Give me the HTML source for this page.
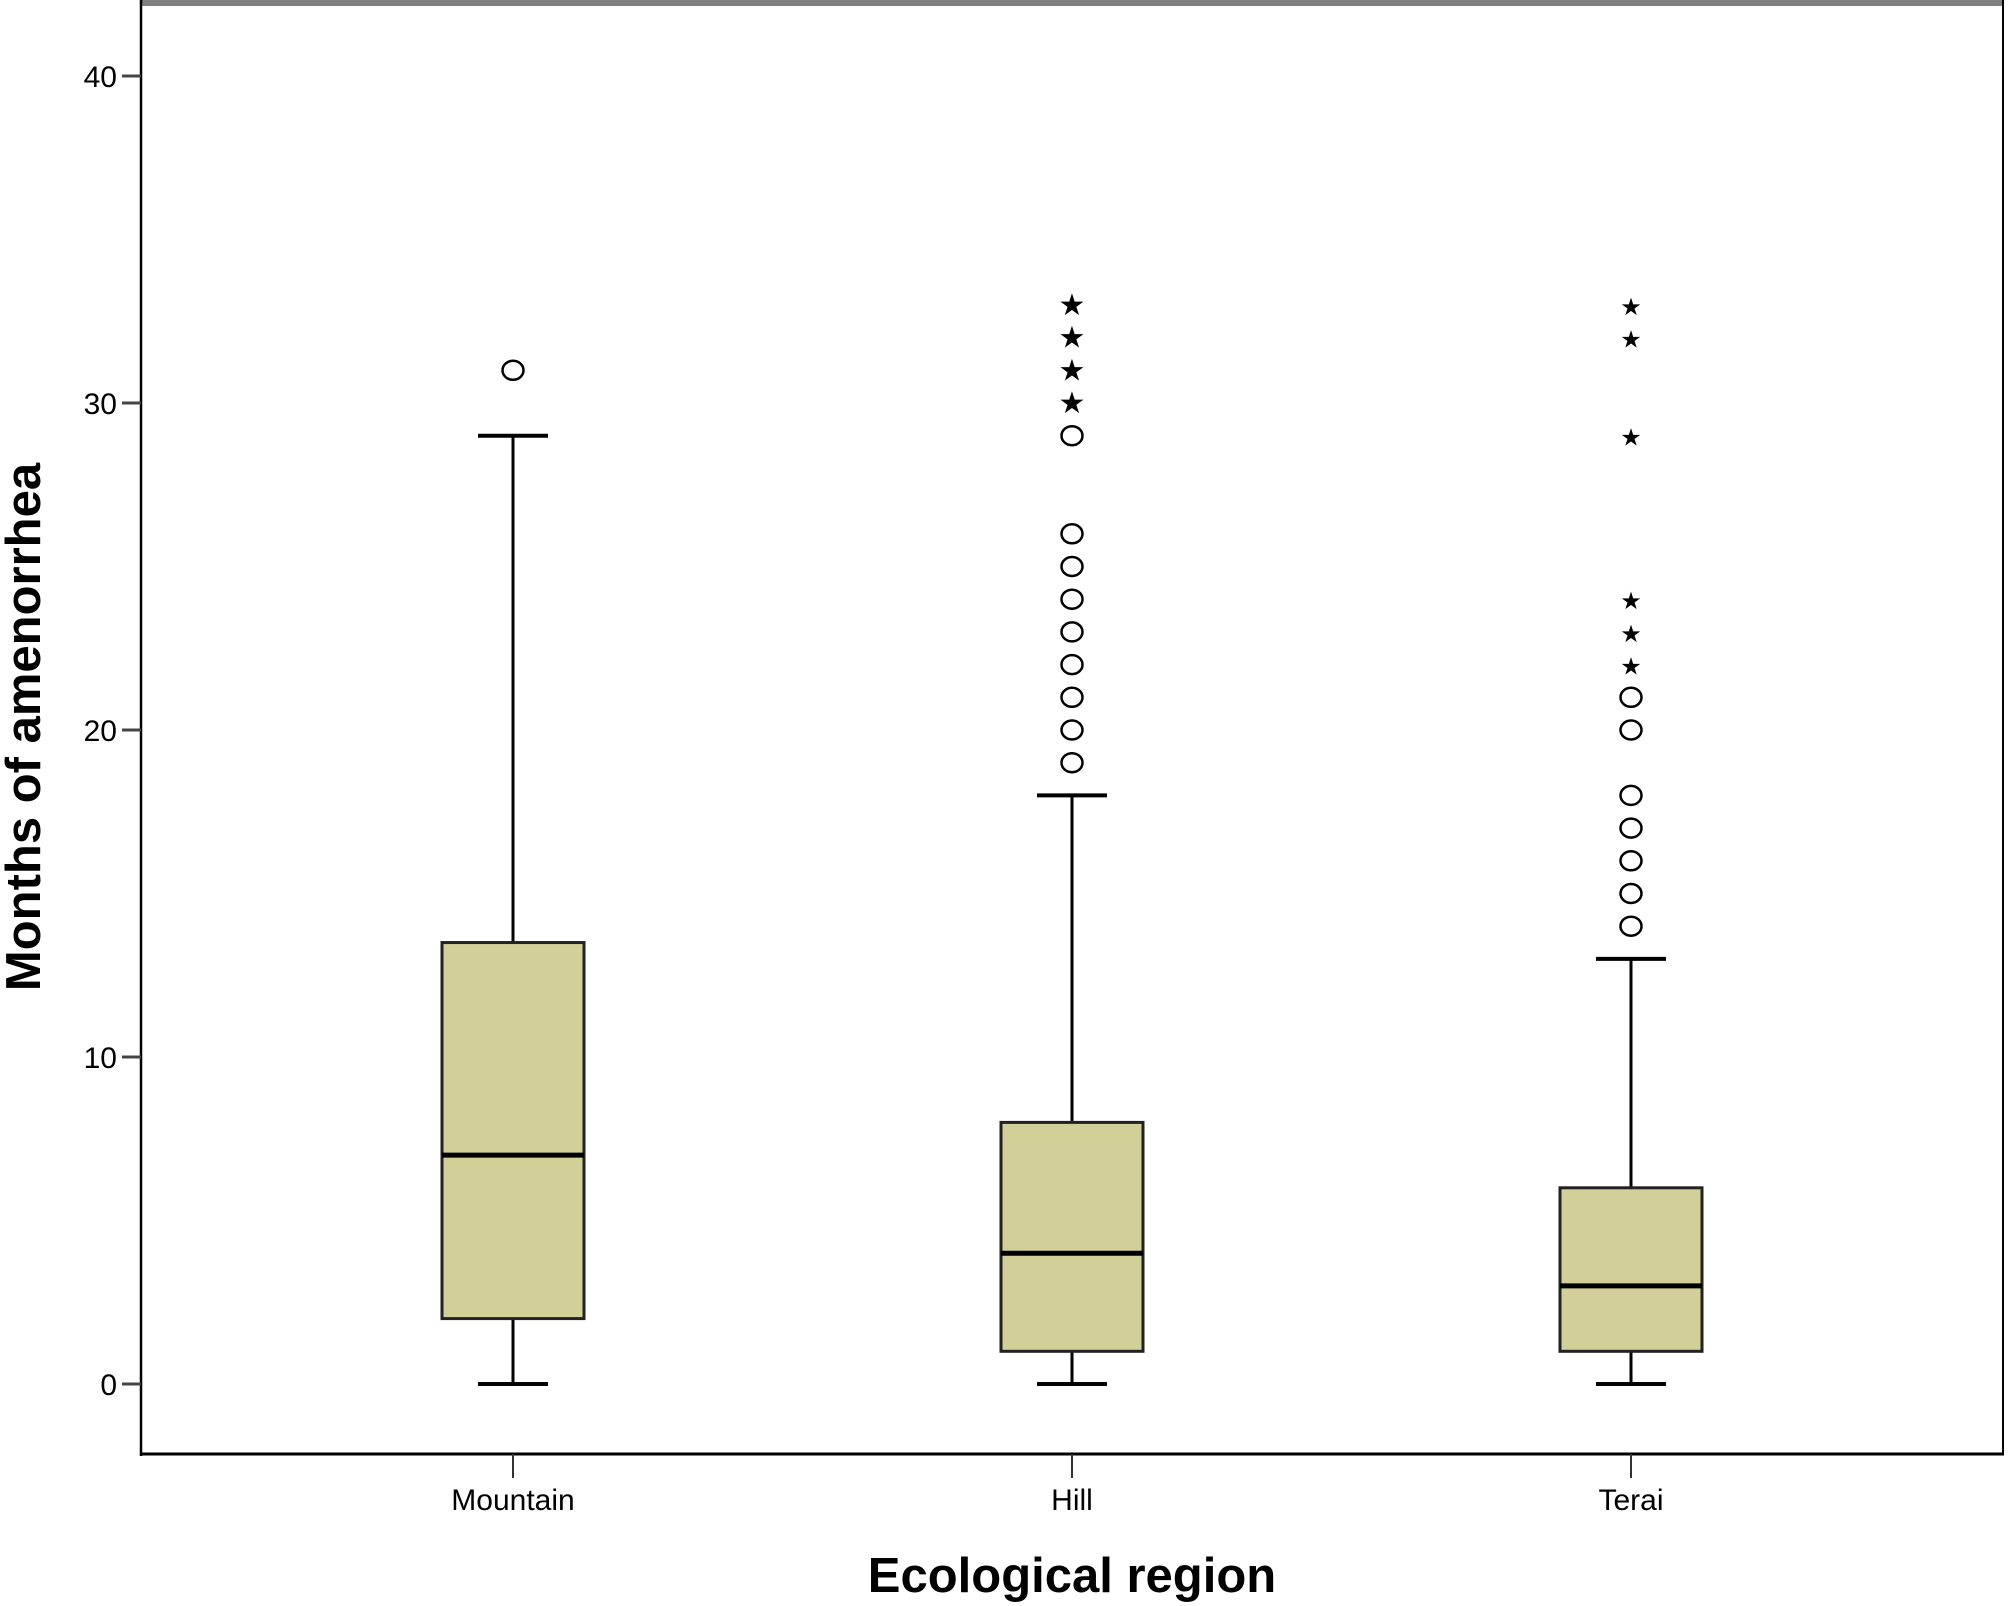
<!DOCTYPE html>
<html><head><meta charset="utf-8"><style>
html,body{margin:0;padding:0;background:#fff;}
svg{display:block;font-family:"Liberation Sans",sans-serif;}
</style></head><body>
<svg id="chart" width="2008" height="1606" viewBox="0 0 2008 1606">
<rect x="0" y="0" width="2008" height="1606" fill="#fff"/>
<g id="plot"></g>
</svg>
<script>
const categories = ["Mountain","Hill","Terai"];
const q1 = [2,1,1];
const q3 = [13.5,8,6];
const medians = [7,4,3];
const whiskerLow = [0,0,0];
const whiskerHigh = [29,18,13];
const circleOutliers = [[31],[19,20,21,22,23,24,25,26,29],[14,15,16,17,18,20,21]];
const starOutliers = [[],[30,31,32,33],[22,23,24,29,32,33]];
const yTicks = [0,10,20,30,40];

const NS="http://www.w3.org/2000/svg";
const L=141,R=2003,T=3,B=1454;
const y0px=1384,y40px=76;
function yScale(v){return y0px+(y40px-y0px)*v/40;}
const xCenters=[513,1072,1631];
function xScale(i){return xCenters[i];}
const g=document.getElementById('plot');
function mk(tag,attrs,parent){const e=document.createElementNS(NS,tag);for(const k in attrs)e.setAttribute(k,attrs[k]);(parent||g).appendChild(e);return e;}

let e;
e=mk('line',{x1:L,y1:T,x2:R,y2:T,stroke:'#808080','stroke-width':6});


e=mk('line',{x1:L,y1:0,x2:L,y2:B+2,stroke:'#000','stroke-width':2.5});


e=mk('line',{x1:L,y1:B,x2:R+1,y2:B,stroke:'#000','stroke-width':3});


e=mk('line',{x1:R,y1:0,x2:R,y2:B,stroke:'#000','stroke-width':2});



yTicks.forEach(v=>{
  const y=yScale(v);
  let t=mk('line',{x1:L-19,y1:y,x2:L,y2:y,stroke:'#444','stroke-width':3});
  
  
  let tx=mk('text',{x:L-24,y:y+11,'text-anchor':'end','font-size':30,fill:'#000'});
  tx.textContent=v;
  
  
});

categories.forEach((c,i)=>{
  const x=xScale(i);
  let t=mk('line',{x1:x,y1:B,x2:x,y2:B+24,stroke:'#333','stroke-width':2});
  
  
  let tx=mk('text',{x:x,y:1510,'text-anchor':'middle','font-size':30,fill:'#000'});
  tx.textContent=c;
  
  

  const hw=71,cw=35;
  let w=mk('line',{x1:x,y1:yScale(whiskerLow[i]),x2:x,y2:yScale(whiskerHigh[i]),stroke:'#000','stroke-width':3});
  
  
  [whiskerLow[i],whiskerHigh[i]].forEach(v=>{
    let cap=mk('line',{x1:x-cw,y1:yScale(v),x2:x+cw,y2:yScale(v),stroke:'#000','stroke-width':4});
    
    
  });
  let b=mk('rect',{x:x-hw,y:yScale(q3[i]),width:2*hw,height:yScale(q1[i])-yScale(q3[i]),fill:'#d3cf99',stroke:'#222','stroke-width':3});
  
  
  let m=mk('line',{x1:x-hw,y1:yScale(medians[i]),x2:x+hw,y2:yScale(medians[i]),stroke:'#000','stroke-width':5});
  
  
  circleOutliers[i].forEach(v=>{
    let o=mk('ellipse',{cx:x,cy:yScale(v),rx:10.5,ry:9.5,fill:'none',stroke:'#000','stroke-width':2.5});
    
    
  });
  starOutliers[i].forEach(v=>{
    let s=mk('text',{x:x,y:yScale(v)+10,'text-anchor':'middle','font-size':i===2?24:30,fill:'#000','font-family':'DejaVu Sans, sans-serif'});
    s.textContent='★';
    
    
  });
});

let xt=mk('text',{x:1072,y:1592,'text-anchor':'middle','font-size':49,'font-weight':'bold',fill:'#000'});
xt.textContent='Ecological region';


let yt=mk('text',{x:0,y:0,'text-anchor':'middle','font-size':49,'font-weight':'bold',fill:'#000',transform:'translate(40,727) rotate(-90)'});
yt.textContent='Months of amenorrhea';


</script>
</body></html>
